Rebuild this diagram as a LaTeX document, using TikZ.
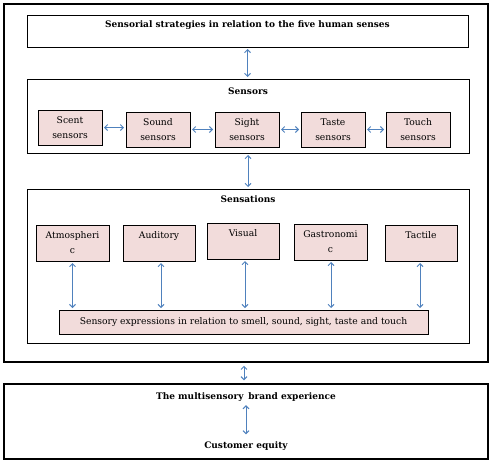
\documentclass[tikz,border=0pt]{standalone}
\usepackage{fontspec}
\setmainfont{DejaVu Serif}
\usetikzlibrary{arrows.meta}
\definecolor{pinkfill}{HTML}{F2DCDB}
\definecolor{arrowblue}{HTML}{4F81BD}
\tikzset{
  outerbox/.style={draw=black, line width=2.5pt, inner sep=0pt},
  framebox/.style={draw=black, line width=1pt, inner sep=0pt},
  pinkbox/.style={draw=black, line width=1pt, fill=pinkfill, inner sep=0pt, align=center},
  txt/.style={inner sep=0pt, font=\fontsize{9.2}{15.5}\selectfont, align=center},
  btxt/.style={inner sep=0pt, font=\fontsize{9}{15}\selectfont\bfseries, align=center},
  conn/.style={draw=arrowblue, line width=1pt, {Straight Barb[length=3pt,width=6pt]}-{Straight Barb[length=3pt,width=6pt]}, shorten <=1.5pt, shorten >=1.5pt}
}
\begin{document}
\begin{tikzpicture}[x=1pt,y=-1pt]
\useasboundingbox (0,0) rectangle (492,463);
% outer boxes
\node[outerbox, minimum width=484, minimum height=358] (outerA) at (246,183) {};
\node[outerbox, minimum width=484, minimum height=75] (outerB) at (246,421.5) {};
% title box
\node[framebox, minimum width=441, minimum height=32] (title) at (247.5,31) {};
\node[btxt] at (247.5,25) {Sensorial strategies in relation to the five human senses};
% sensors
\node[framebox, minimum width=442, minimum height=74] (sensors) at (248,116) {};
\node[btxt] at (248,91) {Sensors};
\node[pinkbox, minimum width=64, minimum height=35, txt] (scent) at (70,127.5) {Scent\\sensors};
\node[pinkbox, minimum width=64, minimum height=35, txt] (sound) at (158,129.5) {Sound\\sensors};
\node[pinkbox, minimum width=64, minimum height=35, txt] (sight) at (247,129.5) {Sight\\sensors};
\node[pinkbox, minimum width=64, minimum height=35, txt] (taste) at (333,129.5) {Taste\\sensors};
\node[pinkbox, minimum width=64, minimum height=35, txt] (touch) at (418,129.5) {Touch\\sensors};
% sensations
\node[framebox, minimum width=442, minimum height=154] (sensations) at (248,266) {};
\node[btxt] at (248,199) {Sensations};
\node[pinkbox, minimum width=73, minimum height=36] (atm) at (72.5,243) {};
\node[txt, anchor=north] at ([yshift=-6.5]atm.north) {Atmospheri\\c};
\node[pinkbox, minimum width=72, minimum height=36] (aud) at (159,243) {};
\node[txt, anchor=north] at ([yshift=-6.5]aud.north) {Auditory};
\node[pinkbox, minimum width=72, minimum height=36] (vis) at (243,241) {};
\node[txt, anchor=north] at ([yshift=-6.5]vis.north) {Visual};
\node[pinkbox, minimum width=73, minimum height=36] (gas) at (330.5,242) {};
\node[txt, anchor=north] at ([yshift=-6.5]gas.north) {Gastronomi\\c};
\node[pinkbox, minimum width=72, minimum height=36] (tac) at (421,243) {};
\node[txt, anchor=north] at ([yshift=-6.5]tac.north) {Tactile};
\node[pinkbox, minimum width=369, minimum height=24, txt] (expr) at (243.5,322) {Sensory expressions in relation to smell, sound, sight, taste and touch};
% bottom
\node[btxt] (mbe) at (246,397) {The multisensory\, brand experience};
\node[btxt] (ceq) at (246,446) {Customer equity};
% connectors
\draw[conn] (title.south) -- (title.south |- sensors.north);
\draw[conn] (sensors.south) -- (sensors.south |- sensations.north);
\draw[conn] (scent.east) -- (scent.east -| sound.west);
\draw[conn] (sound.east) -- (sound.east -| sight.west);
\draw[conn] (sight.east) -- (sight.east -| taste.west);
\draw[conn] (taste.east) -- (taste.east -| touch.west);
\draw[conn] (atm.south) -- (atm.south |- expr.north);
\draw[conn] ([xshift=2]aud.south) -- ([xshift=2]aud.south |- expr.north);
\draw[conn] ([xshift=2]vis.south) -- ([xshift=2]vis.south |- expr.north);
\draw[conn] ([xshift=0.5]gas.south) -- ([xshift=0.5]gas.south |- expr.north);
\draw[conn] ([xshift=-1]tac.south) -- ([xshift=-1]tac.south |- expr.north);
\draw[conn, shorten <=2.5pt, shorten >=2.5pt] ([xshift=-2]outerA.south) -- ([xshift=-2]outerA.south |- outerB.north);
\draw[conn] ([yshift=-2]mbe.south) -- ([yshift=5.5]ceq.north);
\end{tikzpicture}
\end{document}
